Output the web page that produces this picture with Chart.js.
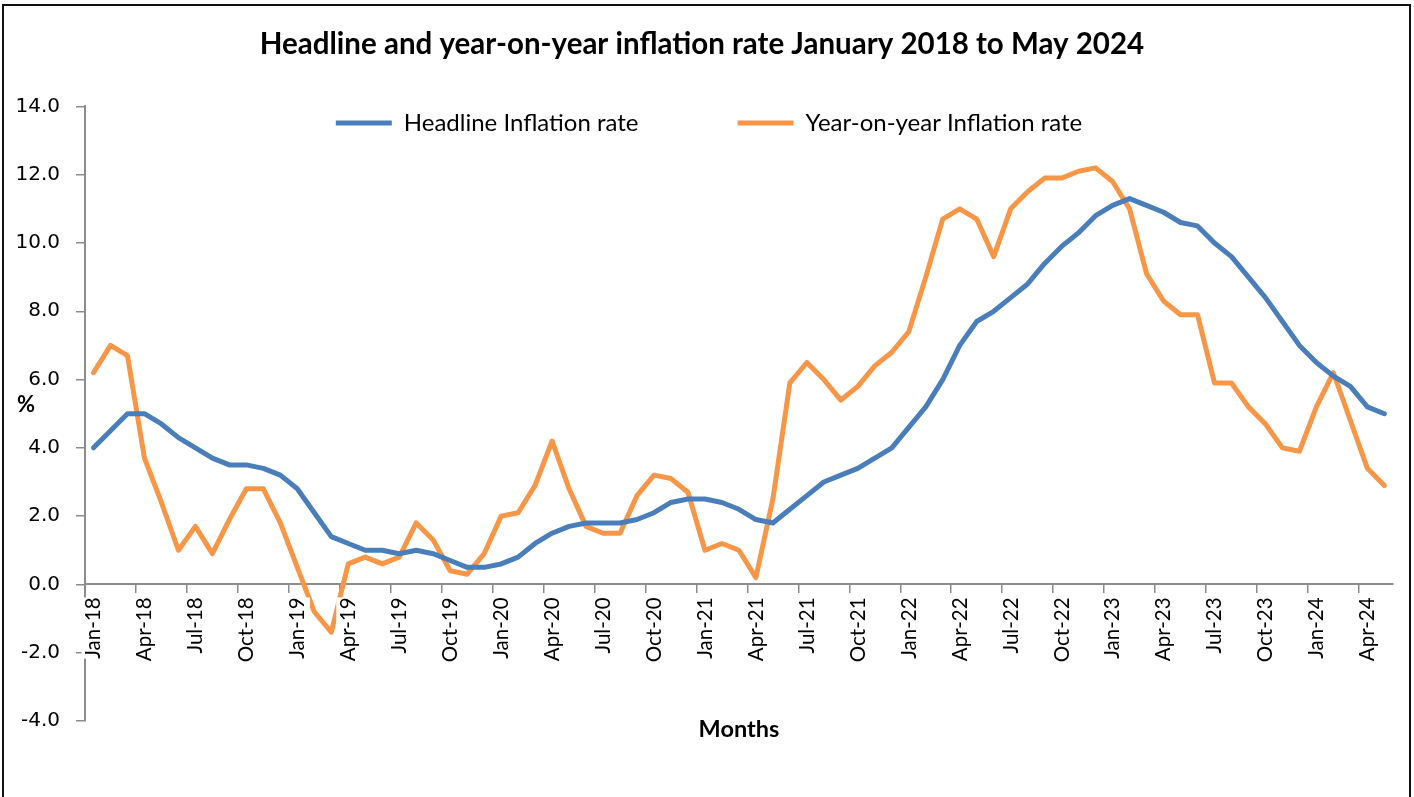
<!DOCTYPE html>
<html lang="en">
<head>
  <meta charset="UTF-8" />
  <title>Headline and year-on-year inflation rate</title>
  <script src="https://cdn.jsdelivr.net/npm/chart.js"></script>
  <style>
    html, body { margin: 0; padding: 0; background: #fff; overflow: hidden; }
    #wrap { position: relative; width: 1414px; height: 797px; }
    #frame {
      position: absolute; left: 2px; top: 4px;
      width: 1405px; height: 900px;
      border: 2px solid #111; pointer-events: none;
    }
  </style>
</head>
<body>

<div id="wrap">
  <canvas id="inflChart" width="1414" height="797"></canvas>
  <div id="frame"></div>
</div>

<script>
  const months = [
    'Jan-18','Feb-18','Mar-18','Apr-18','May-18','Jun-18','Jul-18','Aug-18','Sep-18','Oct-18','Nov-18','Dec-18',
    'Jan-19','Feb-19','Mar-19','Apr-19','May-19','Jun-19','Jul-19','Aug-19','Sep-19','Oct-19','Nov-19','Dec-19',
    'Jan-20','Feb-20','Mar-20','Apr-20','May-20','Jun-20','Jul-20','Aug-20','Sep-20','Oct-20','Nov-20','Dec-20',
    'Jan-21','Feb-21','Mar-21','Apr-21','May-21','Jun-21','Jul-21','Aug-21','Sep-21','Oct-21','Nov-21','Dec-21',
    'Jan-22','Feb-22','Mar-22','Apr-22','May-22','Jun-22','Jul-22','Aug-22','Sep-22','Oct-22','Nov-22','Dec-22',
    'Jan-23','Feb-23','Mar-23','Apr-23','May-23','Jun-23','Jul-23','Aug-23','Sep-23','Oct-23','Nov-23','Dec-23',
    'Jan-24','Feb-24','Mar-24','Apr-24','May-24'
  ];

  const headline = [
    4.0, 4.5, 5.0, 5.0, 4.7, 4.3, 4.0, 3.7, 3.5, 3.5, 3.4, 3.2,
    2.8, 2.1, 1.4, 1.2, 1.0, 1.0, 0.9, 1.0, 0.9, 0.7, 0.5, 0.5,
    0.6, 0.8, 1.2, 1.5, 1.7, 1.8, 1.8, 1.8, 1.9, 2.1, 2.4, 2.5,
    2.5, 2.4, 2.2, 1.9, 1.8, 2.2, 2.6, 3.0, 3.2, 3.4, 3.7, 4.0,
    4.6, 5.2, 6.0, 7.0, 7.7, 8.0, 8.4, 8.8, 9.4, 9.9, 10.3, 10.8,
    11.1, 11.3, 11.1, 10.9, 10.6, 10.5, 10.0, 9.6, 9.0, 8.4, 7.7, 7.0,
    6.5, 6.1, 5.8, 5.2, 5.0
  ];

  const yearOnYear = [
    6.2, 7.0, 6.7, 3.7, 2.4, 1.0, 1.7, 0.9, 1.9, 2.8, 2.8, 1.8,
    0.5, -0.8, -1.4, 0.6, 0.8, 0.6, 0.8, 1.8, 1.3, 0.4, 0.3, 0.9,
    2.0, 2.1, 2.9, 4.2, 2.8, 1.7, 1.5, 1.5, 2.6, 3.2, 3.1, 2.7,
    1.0, 1.2, 1.0, 0.2, 2.5, 5.9, 6.5, 6.0, 5.4, 5.8, 6.4, 6.8,
    7.4, 9.0, 10.7, 11.0, 10.7, 9.6, 11.0, 11.5, 11.9, 11.9, 12.1, 12.2,
    11.8, 11.0, 9.1, 8.3, 7.9, 7.9, 5.9, 5.9, 5.2, 4.7, 4.0, 3.9,
    5.2, 6.2, 4.8, 3.4, 2.9
  ];

  const yTicks = [-4, -2, 0, 2, 4, 6, 8, 10, 12, 14];

  const blue = '#4a7ebb';
  const orange = '#f79646';
  const axisGrey = '#8c8c8c';

  // the legend sits inside the plot, so move it after the layout is done
  // (the legend clips to its own box, so the box must cover the row)
  const legendPlacer = {
    id: 'legendPlacer',
    afterLayout(chart) {
      const lg = chart.legend;
      const pad = lg.options.labels.padding;
      lg.left = 0;
      lg.right = 1418;
      lg.top = 123 - pad - 12;
      lg.bottom = 170;
    }
  };

  // "%" unit label left of the y axis
  const percentLabel = {
    id: 'percentLabel',
    afterDraw(chart) {
      const c = chart.ctx;
      c.save();
      c.font = 'bold 22px Lato';
      c.fillStyle = '#000';
      c.textAlign = 'center';
      c.textBaseline = 'middle';
      c.fillText('%', 26, 405);
      c.restore();
    }
  };

  const ctx = document.getElementById('inflChart').getContext('2d');

  new Chart(ctx, {
    type: 'line',
    data: {
      labels: months,
      datasets: [{
        label: 'Headline Inflation rate',
        data: headline,
        borderColor: blue,
        backgroundColor: blue,
        borderWidth: 5,
        pointRadius: 0,
        tension: 0,
        borderJoinStyle: 'round',
        borderCapStyle: 'round'
      }, {
        label: 'Year-on-year Inflation rate',
        data: yearOnYear,
        borderColor: orange,
        backgroundColor: orange,
        borderWidth: 5,
        pointRadius: 0,
        tension: 0,
        borderJoinStyle: 'round',
        borderCapStyle: 'round'
      }]
    },
    options: {
      responsive: false,
      animation: false,
      layout: { padding: { left: 0, right: 10, top: 0, bottom: 76 } },
      plugins: {
        title: {
          display: true,
          text: 'Headline and year-on-year inflation rate January 2018 to May 2024',
          color: '#000',
          font: { family: 'Lato', size: 29.5, weight: 'bold' },
          padding: { top: 27, bottom: 43 }
        },
        legend: {
          position: 'top',
          maxHeight: 1,
          labels: {
            color: '#000',
            font: { family: 'Lato', size: 24 },
            usePointStyle: true,
            pointStyle: 'line',
            pointStyleWidth: 56,
            padding: 99
          }
        },
        tooltip: { enabled: false }
      },
      scales: {
        x: {
          type: 'category',
          axis: 'x',
          position: { y: 0 },
          offset: true,
          grid: {
            offset: true,
            drawOnChartArea: false,
            tickLength: 8,
            lineWidth: 1.5,
            color: c => c.index % 3 === 0 ? axisGrey : 'rgba(0,0,0,0)'
          },
          border: { color: axisGrey, width: 2 },
          ticks: {
            z: 1,   // labels (with white backdrop) above the lines
            autoSkip: false,
            minRotation: 90,
            maxRotation: 90,
            padding: 5,
            labelOffset: -12,
            color: '#000',
            font: { family: 'Lato', size: 20.5 },
            showLabelBackdrop: true,
            backdropColor: '#fff',
            backdropPadding: 0,
            callback: function (v, i) { return i % 3 === 0 ? this.getLabelForValue(v) : ''; }
          },
          title: {
            display: true,
            text: 'Months',
            color: '#000',
            font: { family: 'Lato', size: 23.5, weight: 'bold' },
            padding: { top: 48, bottom: 0 }
          }
        },
        y: {
          min: -4,
          max: 14,
          afterBuildTicks: s => { s.ticks = yTicks.map(v => ({ value: v })); },
          afterFit: s => { s.width = 85; },
          grid: { drawOnChartArea: false, tickLength: 9, lineWidth: 1.5, color: axisGrey },
          border: { color: axisGrey, width: 2 },
          ticks: {
            padding: 16,
            color: '#000',
            font: { family: 'DejaVu Sans', size: 20 },
            callback: v => v.toFixed(1)
          }
        }
      }
    },
    plugins: [legendPlacer, percentLabel]
  });
</script>

</body>
</html>
